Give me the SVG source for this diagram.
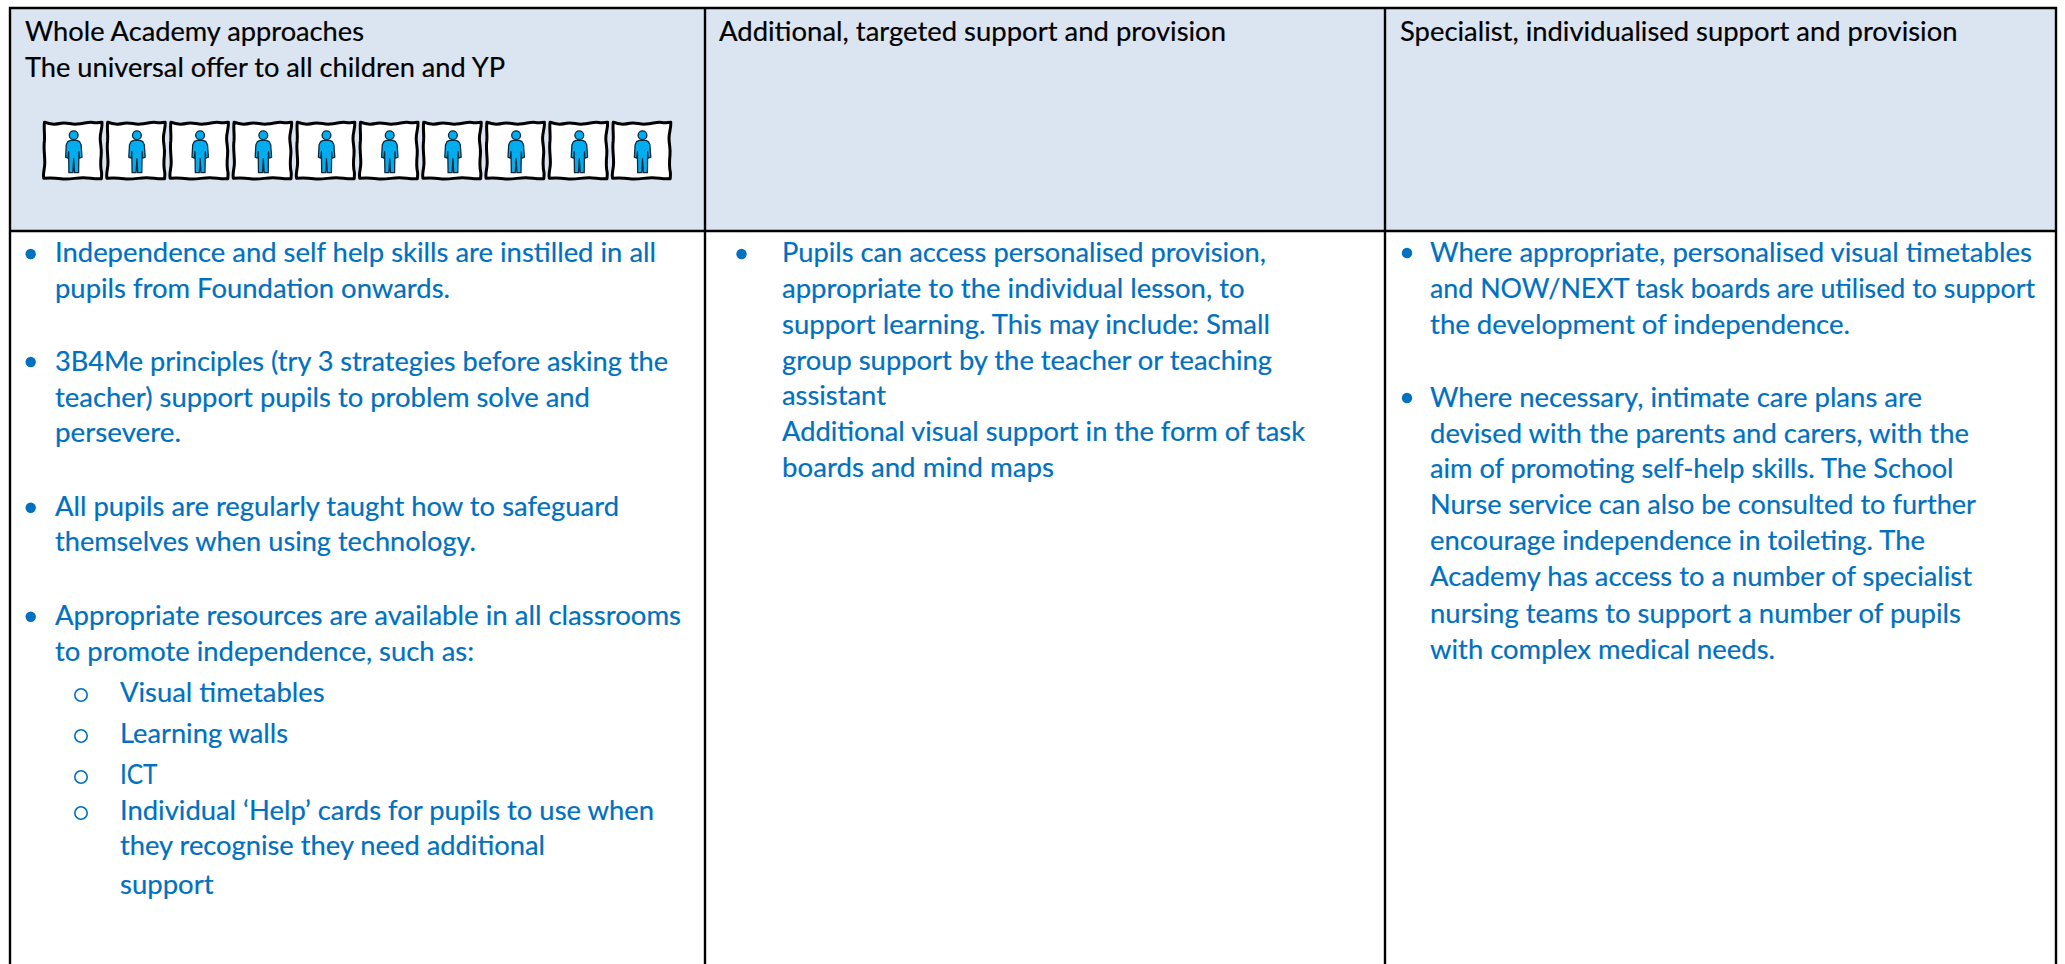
<svg xmlns="http://www.w3.org/2000/svg" xmlns:xlink="http://www.w3.org/1999/xlink" width="2065" height="964" viewBox="0 0 2065 964">
<style>
text{font-family:"Lato","Carlito","Open Sans",sans-serif;font-size:26.8px;white-space:pre;stroke-width:.2}
.h text{fill:#000;stroke:#000}
.b text{fill:#0070c0;stroke:#0070c0}
.d{fill:#0070c0}
.o{fill:none;stroke:#0070c0;stroke-width:1.6}
.grid{stroke:#000;stroke-width:2.4;fill:none}
.frame{fill:#fff;stroke:#000;stroke-width:3;stroke-linejoin:round}
.man{fill:#00aeef;stroke:#10283c;stroke-width:1.3;stroke-linejoin:round}
</style>
<defs>
<g id="icon">
<path class="frame" d="M1.5,1.5C6,3.5 12,4 18,2.6C24,1.4 28,4 34,3.4C42,2.6 46,0.8 50,1.8C54,2.8 56,1.6 59,1.6C59.4,8 57,12 57.2,18C57.4,24 58.8,28 58.2,34C57.6,40 57.2,46 58.6,52C58.8,54 58.6,56 58.4,58C52,58.8 46,56.8 40,57C32,57.2 26,59 18,58C12,57.2 6,57 0.8,57.6C-0.4,53 1.8,48 1.8,42C1.8,34 0.4,28 1.4,20C2,14 0.6,7 1.5,1.5Z"/>
<circle class="man" cx="30.7" cy="14.6" r="4.4"/>
<path class="man" d="M27.5,19.6L24.8,21L23.3,24L22.6,36.5L25,37.5L25.6,31L25.9,52L29.9,52L30.7,38L31.5,52L35.6,52L35.9,31L36.4,37.5L39,36.5L38.1,24L36.6,21L33.9,19.6Z"/>
</g>
</defs>
<rect width="2065" height="964" fill="#fff"/>
<rect id="header-band" x="10" y="8" width="2046" height="223" fill="#dbe5f1"/>
<g id="people">
<use xlink:href="#icon" href="#icon" x="43" y="120.7"/>
<use xlink:href="#icon" href="#icon" x="106.2" y="120.7"/>
<use xlink:href="#icon" href="#icon" x="169.4" y="120.7"/>
<use xlink:href="#icon" href="#icon" x="232.6" y="120.7"/>
<use xlink:href="#icon" href="#icon" x="295.8" y="120.7"/>
<use xlink:href="#icon" href="#icon" x="359" y="120.7"/>
<use xlink:href="#icon" href="#icon" x="422.2" y="120.7"/>
<use xlink:href="#icon" href="#icon" x="485.4" y="120.7"/>
<use xlink:href="#icon" href="#icon" x="548.6" y="120.7"/>
<use xlink:href="#icon" href="#icon" x="611.8" y="120.7"/>
</g>
<g id="table-lines">
<path class="grid" d="M10,964V8H2056V964M705,8V964M1385,8V964M10,231H2056"/>
</g>
<g id="headers" class="h">
<text x="25" y="41" textLength="339" lengthAdjust="spacingAndGlyphs">Whole Academy approaches</text>
<text x="25" y="77" textLength="480" lengthAdjust="spacingAndGlyphs">The universal offer to all children and YP</text>
<text x="719" y="41" textLength="507" lengthAdjust="spacingAndGlyphs">Additional, targeted support and provision</text>
<text x="1400" y="41" textLength="557.5" lengthAdjust="spacingAndGlyphs">Specialist, individualised support and provision</text>
</g>
<g id="col-1" class="b">
<circle class="d" cx="30.7" cy="254" r="5.2"/>
<circle class="d" cx="30.7" cy="362" r="5.2"/>
<circle class="d" cx="30.7" cy="507.7" r="5.2"/>
<circle class="d" cx="30.7" cy="616.7" r="5.2"/>
<circle class="o" cx="81" cy="695" r="6.2"/>
<circle class="o" cx="81" cy="736" r="6.2"/>
<circle class="o" cx="81" cy="777" r="6.2"/>
<circle class="o" cx="81" cy="813" r="6.2"/>
<text x="55" y="262" textLength="601" lengthAdjust="spacingAndGlyphs">Independence and self help skills are instilled in all</text>
<text x="55" y="298" textLength="395" lengthAdjust="spacingAndGlyphs">pupils from Foundation onwards.</text>
<text x="55" y="371" textLength="613" lengthAdjust="spacingAndGlyphs">3B4Me principles (try 3 strategies before asking the</text>
<text x="55" y="407" textLength="535" lengthAdjust="spacingAndGlyphs">teacher) support pupils to problem solve and</text>
<text x="55" y="442" textLength="126" lengthAdjust="spacingAndGlyphs">persevere.</text>
<text x="55" y="515.7" textLength="564" lengthAdjust="spacingAndGlyphs">All pupils are regularly taught how to safeguard</text>
<text x="55" y="551" textLength="421" lengthAdjust="spacingAndGlyphs">themselves when using technology.</text>
<text x="55" y="625" textLength="626" lengthAdjust="spacingAndGlyphs">Appropriate resources are available in all classrooms</text>
<text x="55" y="661" textLength="419" lengthAdjust="spacingAndGlyphs">to promote independence, such as:</text>
<text x="120" y="702" textLength="204.6" lengthAdjust="spacingAndGlyphs">Visual timetables</text>
<text x="120" y="743" textLength="168" lengthAdjust="spacingAndGlyphs">Learning walls</text>
<text x="120" y="784" textLength="37.5" lengthAdjust="spacingAndGlyphs">ICT</text>
<text x="120" y="820" textLength="534" lengthAdjust="spacingAndGlyphs">Individual ‘Help’ cards for pupils to use when</text>
<text x="120" y="855" textLength="425" lengthAdjust="spacingAndGlyphs">they recognise they need additional</text>
<text x="120" y="894" textLength="93.5" lengthAdjust="spacingAndGlyphs">support</text>
</g>
<g id="col-2" class="b">
<circle class="d" cx="741.5" cy="254" r="5.2"/>
<text x="782" y="262" textLength="484" lengthAdjust="spacingAndGlyphs">Pupils can access personalised provision,</text>
<text x="782" y="298" textLength="462.6" lengthAdjust="spacingAndGlyphs">appropriate to the individual lesson, to</text>
<text x="782" y="334" textLength="488" lengthAdjust="spacingAndGlyphs">support learning. This may include: Small</text>
<text x="782" y="369.6" textLength="490" lengthAdjust="spacingAndGlyphs">group support by the teacher or teaching</text>
<text x="782" y="405" textLength="104" lengthAdjust="spacingAndGlyphs">assistant</text>
<text x="782" y="441" textLength="523" lengthAdjust="spacingAndGlyphs">Additional visual support in the form of task</text>
<text x="782" y="477" textLength="272" lengthAdjust="spacingAndGlyphs">boards and mind maps</text>
</g>
<g id="col-3" class="b">
<circle class="d" cx="1407" cy="253" r="5.2"/>
<circle class="d" cx="1407" cy="398" r="5.2"/>
<text x="1430" y="262" textLength="602" lengthAdjust="spacingAndGlyphs">Where appropriate, personalised visual timetables</text>
<text x="1430" y="298" textLength="605" lengthAdjust="spacingAndGlyphs">and NOW/NEXT task boards are utilised to support</text>
<text x="1430" y="333.5" textLength="420" lengthAdjust="spacingAndGlyphs">the development of independence.</text>
<text x="1430" y="407" textLength="492" lengthAdjust="spacingAndGlyphs">Where necessary, intimate care plans are</text>
<text x="1430" y="443" textLength="539" lengthAdjust="spacingAndGlyphs">devised with the parents and carers, with the</text>
<text x="1430" y="478" textLength="523.5" lengthAdjust="spacingAndGlyphs">aim of promoting self-help skills. The School</text>
<text x="1430" y="514" textLength="546" lengthAdjust="spacingAndGlyphs">Nurse service can also be consulted to further</text>
<text x="1430" y="550" textLength="495" lengthAdjust="spacingAndGlyphs">encourage independence in toileting. The</text>
<text x="1430" y="586" textLength="542" lengthAdjust="spacingAndGlyphs">Academy has access to a number of specialist</text>
<text x="1430" y="622.5" textLength="531" lengthAdjust="spacingAndGlyphs">nursing teams to support a number of pupils</text>
<text x="1430" y="658.5" textLength="345" lengthAdjust="spacingAndGlyphs">with complex medical needs.</text>
</g>
</svg>
